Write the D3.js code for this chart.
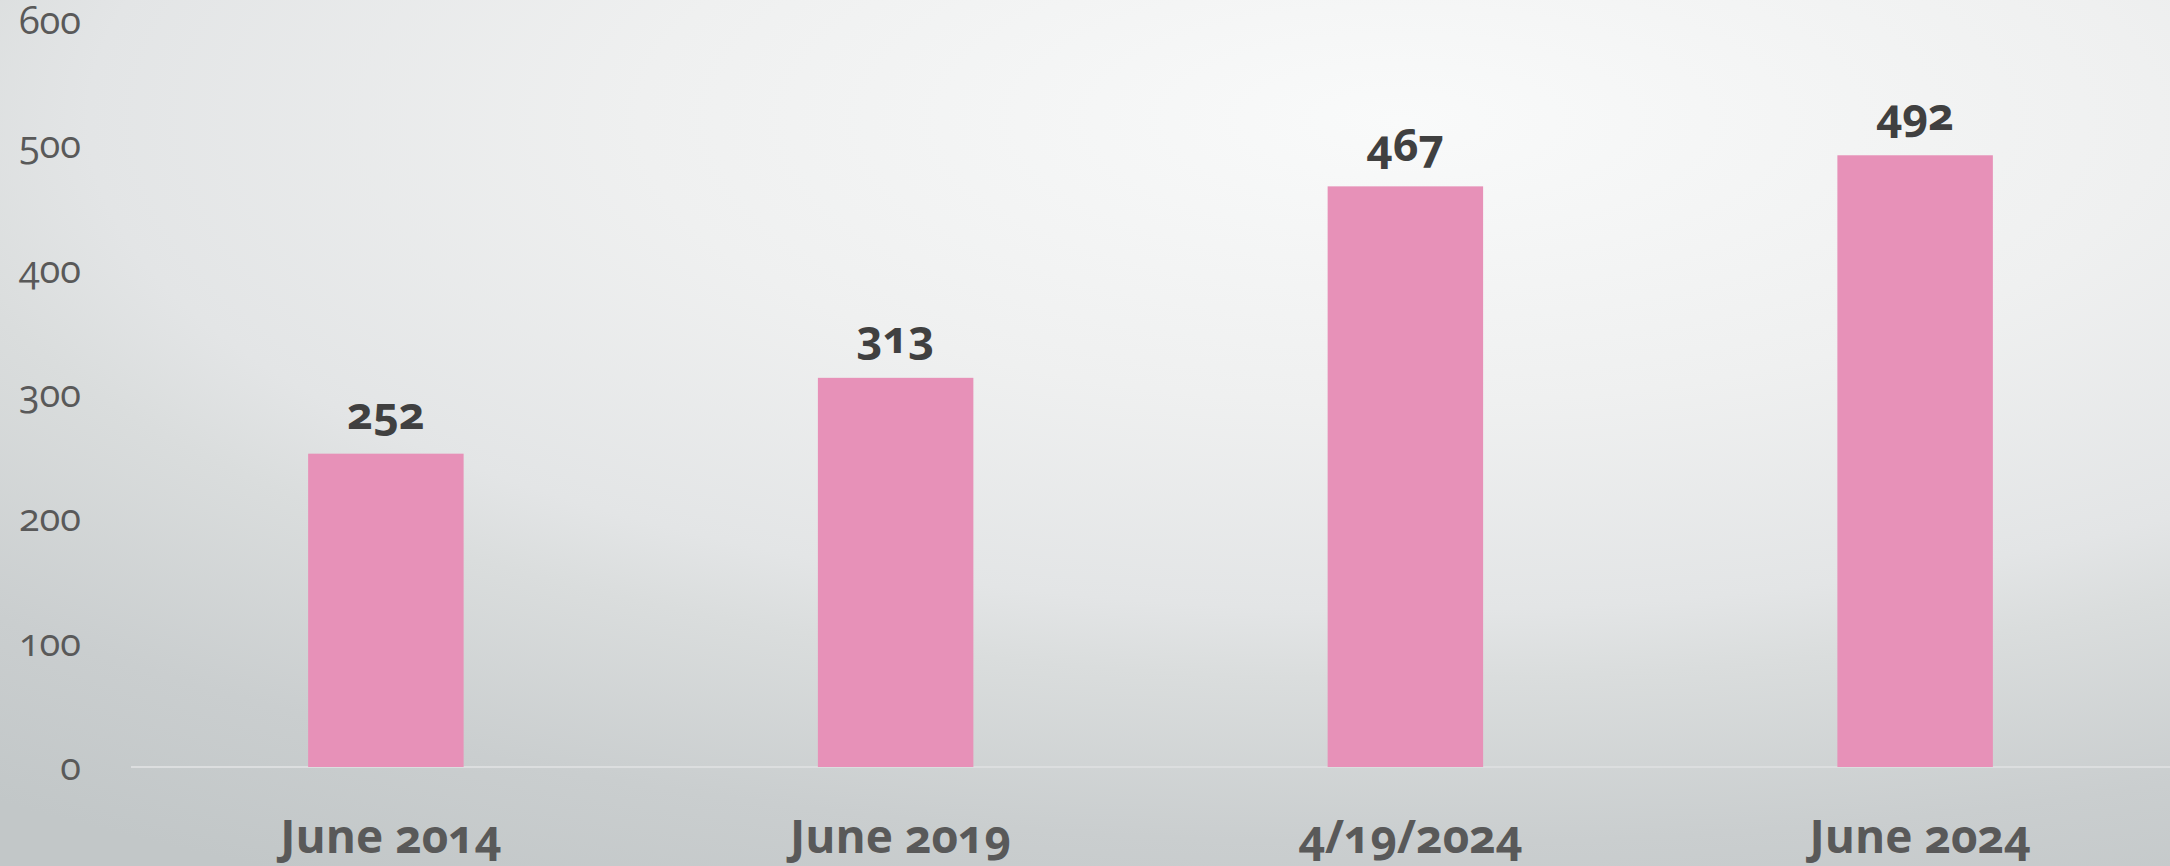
<!DOCTYPE html>
<html>
<head>
<meta charset="utf-8">
<script src="https://cdn.jsdelivr.net/npm/d3@7"></script>
<style>
  html, body { margin: 0; padding: 0; overflow: hidden; }
  #wrap { position: relative; width: 2170px; height: 866px; }
  svg { display: block; position: absolute; left: 0; top: 0; }
  .lbl { position: absolute; white-space: nowrap; font-family: "Open Sans", "Noto Sans", sans-serif;
         font-feature-settings: "onum" 1; line-height: normal; }
  .mk { display: inline-block; width: 0; height: 0; vertical-align: baseline; }
</style>
</head>
<body>
<div id="wrap"><svg id="chart" width="2170" height="866"></svg></div>
<script>
const categories = ["June 2014", "June 2019", "4/19/2024", "June 2024"];
const values = [252, 313, 467, 492];
const yTicks = [0, 100, 200, 300, 400, 500, 600];

const W = 2170, H = 866;
const svg = d3.select("#chart");
const wrap = d3.select("#wrap");

// background: elliptical radial gradient
const defs = svg.append("defs");
const rg = defs.append("radialGradient").attr("id", "bg")
  .attr("gradientUnits", "userSpaceOnUse")
  .attr("cx", 0).attr("cy", 0).attr("r", 1)
  .attr("gradientTransform", "translate(1400,120) scale(2300,860)");
[[0, "#f9fafa"], [0.33, "#eff0f0"], [0.57, "#e3e5e6"], [0.65, "#dadddd"],
 [0.84, "#cacecf"], [1, "#c2c7c8"]].forEach(([o, c]) =>
  rg.append("stop").attr("offset", o).attr("stop-color", c));
svg.append("rect").attr("width", W).attr("height", H).attr("fill", "url(#bg)");

const x = d3.scaleBand().domain(categories).range([131, 2170])
  .paddingInner(0.695).paddingOuter(0.3475);
const y = d3.scaleLinear().domain([0, 600]).range([767, 21]);

// baseline
svg.append("line")
  .attr("x1", x.range()[0]).attr("x2", x.range()[1])
  .attr("y1", y(0)).attr("y2", y(0))
  .attr("stroke", "#dcdedf").attr("stroke-width", 2);

// bars
svg.selectAll("rect.bar").data(values).enter().append("rect")
  .attr("class", "bar")
  .attr("x", (d, i) => x(categories[i]))
  .attr("width", x.bandwidth())
  .attr("y", d => y(d))
  .attr("height", d => y(0) - y(d))
  .attr("fill", "#e791b8");

// text placed as HTML so old-style figures render
function place(text, px, baseY, anchor, size, weight, color) {
  const div = wrap.append("div").attr("class", "lbl")
    .style("font-size", size + "px").style("font-weight", weight).style("color", color);
  div.append("span").text(text);
  const mk = div.append("span").attr("class", "mk");
  const node = div.node();
  const w = node.getBoundingClientRect().width;
  const bt = mk.node().offsetTop;
  const f = anchor === "end" ? 1 : anchor === "middle" ? 0.5 : 0;
  div.style("left", (px - w * f) + "px").style("top", (baseY - bt) + "px");
}

// y axis tick labels
const yFmt = y.tickFormat(6, "d");
yTicks.forEach(v => place(yFmt(v), 81, y(v) + 13, "end", 38, "normal", "#595959"));

// value labels
values.forEach((v, i) => place(String(v), x(categories[i]) + x.bandwidth() / 2, y(v) - 25,
  "middle", 45, "bold", "#404040"));

// category labels
categories.forEach(c => place(c, x(c) + x.bandwidth() / 2 + 5, y(0) + 86,
  "middle", 46, "bold", "#595959"));
</script>
</body>
</html>
